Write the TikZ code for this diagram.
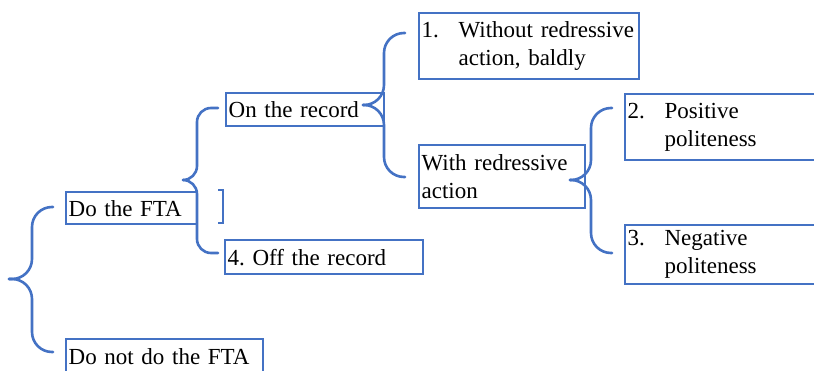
\documentclass[tikz,border=0pt]{standalone}
\usepackage{fontspec}
\setmainfont{Liberation Serif}
\frenchspacing
\definecolor{wordblue}{RGB}{68,114,196}
\tikzset{
  box/.style={draw=wordblue,line width=2.3pt,anchor=north west,inner xsep=2.5pt,inner ysep=0pt,align=left},
  curly/.style={draw=wordblue,line width=2.6pt,line cap=round},
}
\newcommand{\itemno}[1]{\makebox[37pt][l]{#1}}
\begin{document}
\begin{tikzpicture}[x=1pt,y=-1pt,every node/.style={font=\fontsize{23}{28}\selectfont}]
\useasboundingbox (0,0) rectangle (814,370);
\clip (0,0) rectangle (814,370);
% boxes
\node[box,text width=126pt,minimum height=32pt] (fta) at (65,191) {Do the FTA};
\node[box,text width=192pt,minimum height=34pt] (nofta) at (65,338) {Do not do the FTA};
\node[box,text width=153pt,minimum height=33pt] (onrec) at (225,92) {On the record};
\node[box,text width=193pt,minimum height=34pt] (offrec) at (224,239) {4. Off the record};
\node[box,text width=215pt,minimum height=66pt] (bald) at (418,12) {\itemno{1.}\mbox{Without redressive}\\\hspace*{37pt}action, baldly};
\node[box,text width=161pt,minimum height=63pt] (redress) at (418,144) {\mbox{With redressive}\\action};
\node[box,text width=215pt,minimum height=66pt] (pos) at (624,93) {\itemno{2.}Positive\\\hspace*{37pt}politeness};
\node[box,text width=215pt,minimum height=59pt] (neg) at (624,224) {\itemno{3.}Negative\\\hspace*{37pt}politeness};
% braces
\coordinate (tipA) at (9,279);
\draw[curly,rounded corners=20pt] (53,207) -| (32,279) -- (tipA);
\draw[curly,rounded corners=20pt] (tipA) -- (32,279) |- (53,352);
\coordinate (tipB) at (183,180);
\draw[curly,rounded corners=14pt] (218,108) -| (197,180) -- (tipB);
\draw[curly,rounded corners=14pt] (tipB) -- (197,180) |- (218,253);
\coordinate (tipC) at (363,105);
\draw[curly,rounded corners=20pt] (405,33) -| (384,105) -- (tipC);
\draw[curly,rounded corners=20pt] (tipC) -- (384,105) |- (405,177);
\coordinate (tipD) at (570,180);
\draw[curly,rounded corners=20pt] (612,108) -| (591,180) -- (tipD);
\draw[curly,rounded corners=20pt] (tipD) -- (591,180) |- (612,253);
% small bracket
\draw[curly,line cap=butt] (218,190) -- (223,190) -- (223,223) -- (218,223);
\end{tikzpicture}
\end{document}
